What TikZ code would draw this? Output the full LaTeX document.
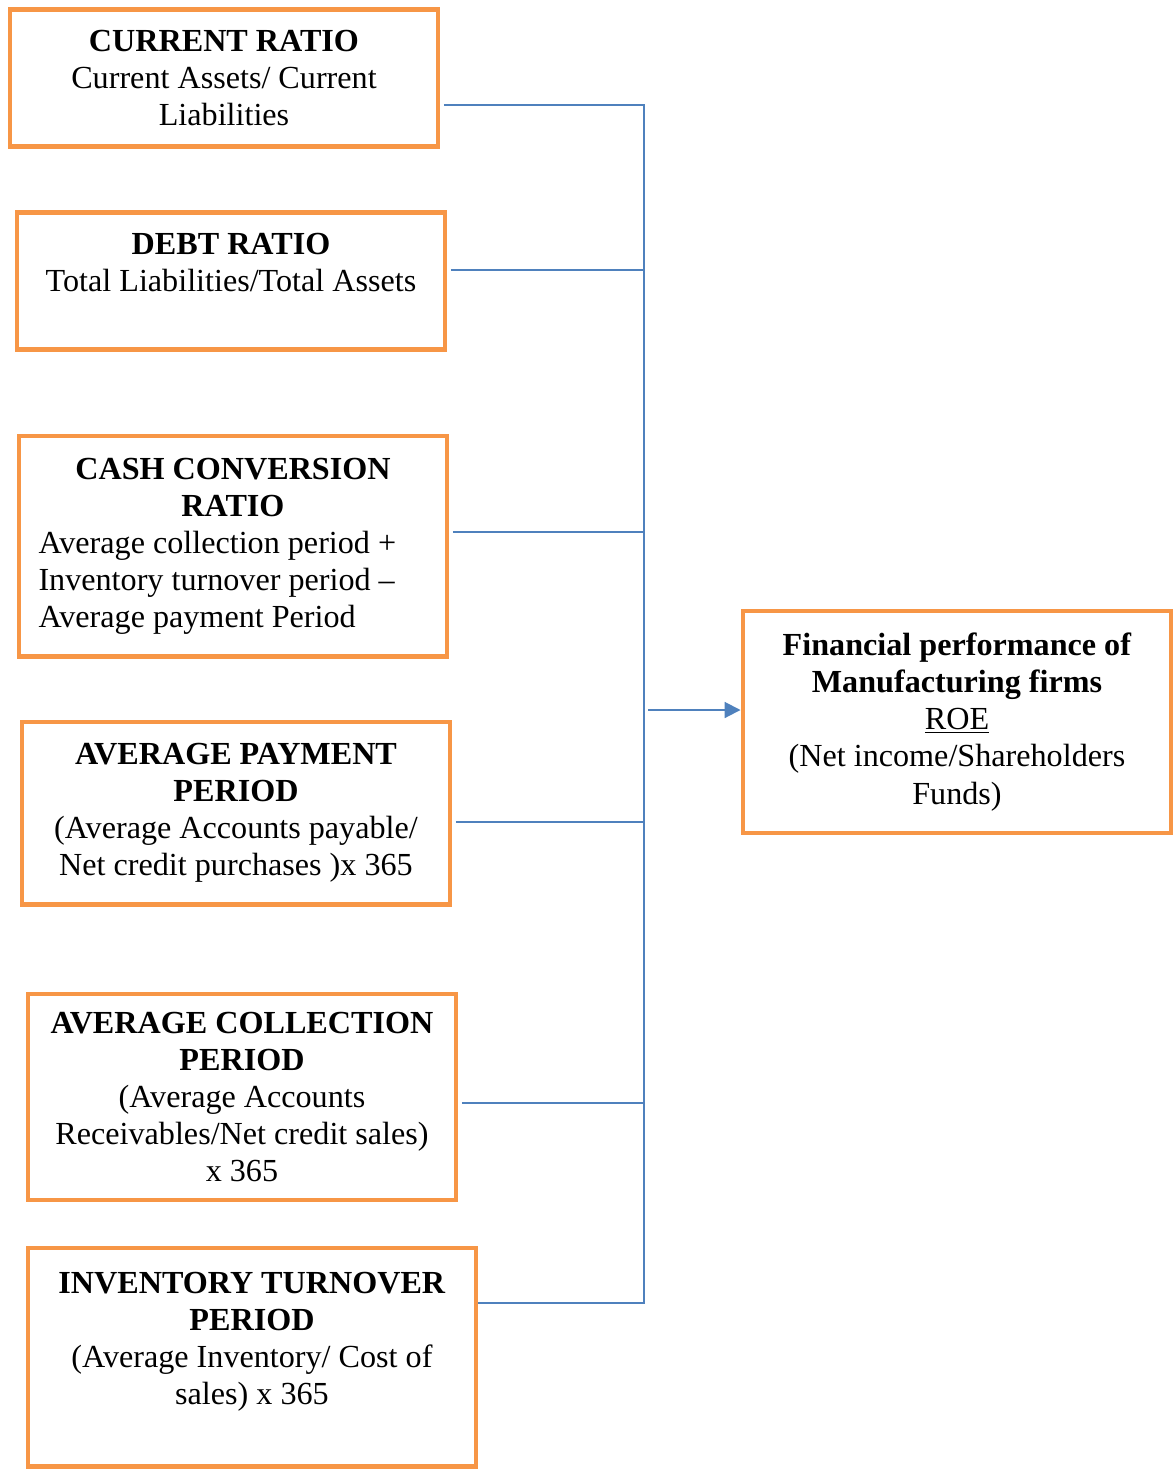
\documentclass[tikz,border=0pt]{standalone}
\usepackage{fontspec}
\setmainfont{Liberation Serif}
\usetikzlibrary{positioning, arrows.meta}

\definecolor{boxorange}{HTML}{F79646}
\definecolor{linkblue}{HTML}{4F81BD}

\begin{document}
\begin{tikzpicture}[
    x=0.02cm, y=-0.02cm, % one unit = one pixel of the layout
    ratio/.style={draw=boxorange, line width=2.3pt, align=center,
        minimum width=8.58cm, inner sep=0pt,
        font=\fontsize{18.3}{21.1}\selectfont}, % boxes in orange
    link/.style={draw=linkblue, line width=1.1pt}, % blue connectors
    >={Triangle[length=9pt, width=9pt]}
]
\useasboundingbox (0,0) rectangle (1176,1470);

% Ratio boxes on the left
\node[ratio, minimum height=2.74cm] (cr) at (224,78)
    {\textbf{CURRENT RATIO}\\ Current Assets/ Current\\ Liabilities};
\node[ratio, minimum height=2.74cm] (dr) at (231,281)
    {\textbf{DEBT RATIO}\\ Total Liabilities/Total Assets\\ ~};
\node[ratio, minimum height=4.42cm, text width=7.78cm, align=flush left] (ccr) at (233,546)
    {\spaceskip=0pt \xspaceskip=0pt
     {\centering\textbf{CASH CONVERSION}\par\textbf{RATIO}\par}
     \raggedright Average collection period +\par Inventory turnover period --\par Average payment Period\par};
\node[ratio, minimum height=3.66cm] (app) at (236,813)
    {\textbf{AVERAGE PAYMENT}\\ \textbf{PERIOD}\\ (Average Accounts payable/\\ Net credit purchases )x 365};
\node[ratio, minimum height=4.12cm] (acp) at (242,1097)
    {\textbf{AVERAGE COLLECTION}\\ \textbf{PERIOD}\\ (Average Accounts\\ Receivables/Net credit sales)\\ x 365};
\node[ratio, minimum width=8.96cm, minimum height=4.38cm] (itp) at (252,1357)
    {\textbf{INVENTORY TURNOVER}\\ \textbf{PERIOD}\\ (Average Inventory/ Cost of\\ sales) x 365\\ ~};

% Outcome box on the right
\node[ratio, minimum height=4.44cm] (roe) at (957,722)
    {\textbf{Financial performance of}\\ \textbf{Manufacturing firms}\\ \underline{ROE}\\ (Net income/Shareholders\\ Funds)};

% Bus points
\coordinate (b1) at (644,105);
\coordinate (b2) at (644,270);
\coordinate (b3) at (644,532);
\coordinate (b4) at (644,822);
\coordinate (b5) at (644,1103);
\coordinate (b6) at (644,1303);
\coordinate (hub) at (648,710);

% Connectors
\draw[link, shorten <=2pt] (cr.east |- b1) -- (b1) -- (b6) -- (itp.east |- b6);
\foreach \n/\pt in {dr/b2, ccr/b3, app/b4, acp/b5}
    \draw[link, shorten <=2pt] (\n.east |- \pt) -- (\pt);
\draw[link, ->] (hub) -- (roe.west |- hub);

\end{tikzpicture}
\end{document}
